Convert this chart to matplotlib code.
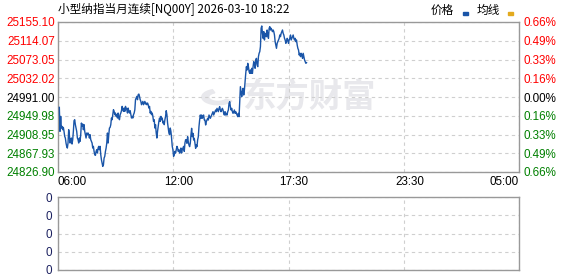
import numpy as np
import pandas as pd
import matplotlib
matplotlib.use('Agg')
import matplotlib.pyplot as plt
from matplotlib.patches import Rectangle, Wedge
from matplotlib.transforms import offset_copy

# --- data ---
title = '小型纳指当月连续[NQ00Y] 2026-03-10 18:22'
session_open = '2026-03-10 06:00'
first_quote = '2026-03-10 06:04'

# prices every 2 minutes, morning part (06:04 - 12:22)
price_part1 = [
    24968.3, 24915.8, 24948.6, 24923.1, 24926.7, 24919.4, 24924.5, 24915.8, 24904.9, 24901.2,
    24890.3, 24883.0, 24879.3, 24890.3, 24919.4, 24908.5, 24890.3, 24897.6, 24901.2, 24888.1,
    24897.6, 24915.8, 24939.1, 24941.3, 24930.4, 24923.1, 24915.8, 24901.2, 24897.6, 24890.3,
    24901.2, 24893.9, 24908.5, 24934.0, 24926.7, 24931.8, 24919.4, 24930.4, 24915.8, 24908.5,
    24901.2, 24912.2, 24908.5, 24912.2, 24908.5, 24901.2, 24908.5, 24897.6, 24893.9, 24890.3,
    24879.3, 24883.0, 24872.0, 24864.7, 24863.3, 24872.0, 24875.7, 24868.4, 24879.3, 24883.0,
    24875.7, 24883.0, 24864.7, 24853.8, 24846.5, 24839.2, 24842.9, 24857.5, 24861.1, 24872.0,
    24879.3, 24890.3, 24912.2, 24890.3, 24908.5, 24923.1, 24924.5, 24930.4, 24945.0, 24941.3,
    24952.3, 24963.2, 24959.6, 24952.3, 24955.9, 24948.6, 24952.3, 24945.0, 24955.9, 24945.0,
    24941.3, 24952.3, 24955.9, 24961.0, 24970.5, 24963.2, 24959.6, 24966.8, 24959.6, 24970.5,
    24966.8, 24963.2, 24955.9, 24966.8, 24959.6, 24955.9, 24961.0, 24952.3, 24945.0, 24948.6,
    24945.0, 24952.3, 24955.9, 24963.2, 24985.1, 24988.7, 24992.4, 24985.1, 24996.0, 24997.5,
    24992.4, 24985.1, 24981.4, 24974.1, 24977.8, 24981.4, 24974.1, 24977.8, 24981.4, 24975.6,
    24977.8, 24974.1, 24977.8, 24974.1, 24966.8, 24970.5, 24955.9, 24959.6, 24952.3, 24955.9,
    24948.6, 24937.7, 24941.3, 24923.1, 24930.4, 24912.2, 24901.2, 24915.8, 24926.7, 24937.7,
    24945.0, 24937.7, 24948.6, 24941.3, 24945.0, 24934.0, 24937.7, 24930.4, 24941.3, 24948.6,
    24961.0, 24952.3, 24934.0, 24923.1, 24912.2, 24908.5, 24923.1, 24915.8, 24901.2, 24883.0,
    24875.7, 24861.1, 24864.7, 24872.0, 24868.4, 24875.7, 24883.0, 24879.3, 24872.0, 24875.7,
    24868.4, 24872.0, 24879.3, 24868.4, 24875.7, 24879.3, 24883.0, 24872.0, 24890.3, 24897.6,
]

# afternoon / evening part (continues every 2 minutes)
price_part2 = [
    24897.0, 24889.7, 24904.2, 24893.3, 24886.0, 24882.4, 24889.7, 24907.9, 24922.5, 24904.2,
    24911.5, 24897.0, 24900.6, 24889.7, 24878.7, 24886.0, 24882.4, 24897.0, 24904.2, 24926.1,
    24940.7, 24951.6, 24944.4, 24951.6, 24944.4, 24948.0, 24951.6, 24940.7, 24940.7, 24929.8,
    24937.1, 24940.7, 24944.4, 24940.7, 24951.6, 24948.0, 24944.4, 24948.0, 24951.6, 24955.3,
    24958.9, 24951.6, 24955.3, 24958.9, 24962.6, 24958.9, 24966.2, 24962.6, 24958.9, 24966.2,
    24969.9, 24962.6, 24958.9, 24962.6, 24966.2, 24962.6, 24955.3, 24951.6, 24958.9, 24951.6,
    24955.3, 24951.6, 24958.9, 24962.6, 24977.2, 24980.8, 24969.9, 24962.6, 24966.2, 24958.9,
    24955.3, 24958.9, 24962.6, 24955.3, 24958.9, 24955.3, 24951.6, 24948.0, 24955.3, 24948.0,
    24980.8, 25013.6, 25002.7, 24991.8, 25002.7, 25010.0, 24995.4, 25006.3, 25024.6, 25042.8,
    25057.4, 25050.1, 25064.7, 25057.4, 25046.5, 25042.8, 25050.1, 25042.8, 25053.8, 25042.8,
    25057.4, 25068.3, 25064.7, 25053.8, 25072.0, 25075.6, 25061.0, 25057.4, 25079.3, 25086.6,
    25090.2, 25101.2, 25141.3, 25146.4, 25130.3, 25119.4, 25134.0, 25115.7, 25126.7, 25130.3,
    25123.0, 25137.6, 25126.7, 25119.4, 25141.3, 25144.9, 25137.6, 25141.3, 25137.6, 25134.0,
    25137.6, 25134.0, 25126.7, 25112.1, 25104.8, 25097.5, 25108.4, 25112.1, 25115.7, 25119.4,
    25126.7, 25123.0, 25130.3, 25134.0, 25137.6, 25130.3, 25126.7, 25119.4, 25115.7, 25108.4,
    25112.1, 25119.4, 25115.7, 25108.4, 25115.7, 25119.4, 25126.7, 25115.7, 25119.4, 25123.0,
    25126.7, 25119.4, 25115.7, 25119.4, 25112.1, 25115.7, 25104.8, 25097.5, 25093.9, 25082.9,
    25086.6, 25079.3, 25086.6, 25082.9, 25075.6, 25086.6, 25079.3, 25072.0, 25068.3, 25064.7,
    25066.1,
]

# axis ticks
price_ticks = [25155.10, 25114.07, 25073.05, 25032.02, 24991.00,
               24949.98, 24908.95, 24867.93, 24826.90]
price_labels = ['25155.10', '25114.07', '25073.05', '25032.02', '24991.00',
                '24949.98', '24908.95', '24867.93', '24826.90']
pct_labels = ['0.66%', '0.49%', '0.33%', '0.16%', '0.00%',
              '0.16%', '0.33%', '0.49%', '0.66%']
time_labels = ['06:00', '12:00', '17:30', '23:30', '05:00']
session_minutes = 1380  # 06:00 -> 05:00 next day
volume_ticks = [0, 1, 2, 3, 4]
volume_labels = ['0', '0', '0', '0', '0']

# colours
UP = '#ff0000'
DOWN = '#008000'
FLAT = '#000000'
LINE = '#1a55a8'
AVG = '#e3aa1e'
GRID = '#cfcfcf'
FRAME = '#999999'

W, H = 578, 276
NUM_FONT = 'Liberation Sans'
CJK_FONT = ['Noto Sans CJK SC', 'DejaVu Sans']


def fx(px):
    return px / W


def fy(py):
    return 1 - py / H


def style_frame(ax):
    """Grey box + dashed grid like the quote widget."""
    for s in ax.spines.values():
        s.set_color(FRAME)
        s.set_linewidth(1.0)
    ax.grid(True, linestyle=(0, (3, 3)), color=GRID, linewidth=0.8)
    ax.set_axisbelow(True)


def main():
    prices = np.array(price_part1 + price_part2)
    times = pd.date_range(first_quote, periods=len(prices), freq='2min')
    minutes = (times - pd.Timestamp(session_open)).total_seconds() / 60
    base = price_ticks[4]

    fig = plt.figure(figsize=(W / 100, H / 100), dpi=100)
    fig.patch.set_facecolor('white')

    # main price panel
    ax = fig.add_axes([fx(58), fy(172), fx(519) - fx(58), (172 - 22) / H])
    style_frame(ax)
    ax.plot(minutes, prices, color=LINE, linewidth=1.0, zorder=3)
    ax.set_xlim(0, session_minutes)
    ax.set_ylim(price_ticks[-1], price_ticks[0])

    xt = np.linspace(0, session_minutes, len(time_labels))
    ax.set_xticks(xt)
    ax.tick_params(axis='x', length=0, labelbottom=False)

    colors = [UP if p > base else (DOWN if p < base else FLAT) for p in price_ticks]
    ax.set_yticks(price_ticks)
    ax.set_yticklabels(price_labels, fontfamily=NUM_FONT, fontsize=8.4)
    ax.tick_params(axis='y', length=0, pad=2.2)
    for lab, c in zip(ax.get_yticklabels(), colors):
        lab.set_color(c)

    axr = ax.twinx()
    axr.set_ylim(ax.get_ylim())
    axr.set_yticks(price_ticks)
    axr.set_yticklabels(pct_labels, fontfamily=NUM_FONT, fontsize=8.4)
    axr.tick_params(axis='y', length=0, pad=3.6)
    for lab, c in zip(axr.get_yticklabels(), colors):
        lab.set_color(c)
    for s in axr.spines.values():
        s.set_visible(False)

    # time labels under the price panel
    aligns = ['left', 'center', 'center', 'center', 'right']
    shifts = [-1, 5, 5, 6, 0]
    for x, lab, ha, dx in zip(xt, time_labels, aligns, shifts):
        tr = offset_copy(ax.get_xaxis_transform(), fig=fig, x=dx, y=-10, units='dots')
        ax.text(x, 0, lab, transform=tr, ha=ha, va='center',
                fontfamily=NUM_FONT, fontsize=8.4, color='#000000')

    # watermark
    ax.text(fx(309), fy(98), '东方财富', transform=fig.transFigure, ha='center',
            va='center', fontsize=24, fontweight='bold', color='#e8e8ec',
            family=CJK_FONT, zorder=0)
    logo = Wedge((fx(218), fy(97)), 0.028, 110, 330, width=0.012,
                 transform=fig.transFigure, color='#e8e8ec', zorder=0)
    ax.add_artist(logo)

    # volume panel (empty)
    ax2 = fig.add_axes([fx(58), fy(270), fx(519) - fx(58), (270 - 197) / H])
    style_frame(ax2)
    ax2.set_xlim(0, session_minutes)
    ax2.set_xticks(xt)
    ax2.tick_params(axis='x', length=0, labelbottom=False)
    ax2.set_ylim(volume_ticks[0], volume_ticks[-1])
    ax2.set_yticks(volume_ticks)
    ax2.set_yticklabels(volume_labels, fontfamily=NUM_FONT, fontsize=8.4, color='#1c2160')
    ax2.tick_params(axis='y', length=0, pad=4.3)

    # header: title + legend
    fig.text(fx(58), fy(9), title, ha='left', va='center', fontsize=8.4,
             family=CJK_FONT, color='#000000')
    fig.text(fx(431), fy(10), '价格', ha='left', va='center', fontsize=8.4,
             family=CJK_FONT, color='#000000')
    fig.patches.append(Rectangle((fx(463), fy(15)), 5 / W, 2.5 / H,
                                 transform=fig.transFigure, color=LINE))
    fig.text(fx(477), fy(10), '均线', ha='left', va='center', fontsize=8.4,
             family=CJK_FONT, color='#000000')
    fig.patches.append(Rectangle((fx(508), fy(15)), 5 / W, 2.5 / H,
                                 transform=fig.transFigure, color=AVG))

    fig.savefig('out.png', dpi=100)
    plt.close(fig)


if __name__ == "__main__":
    main()
